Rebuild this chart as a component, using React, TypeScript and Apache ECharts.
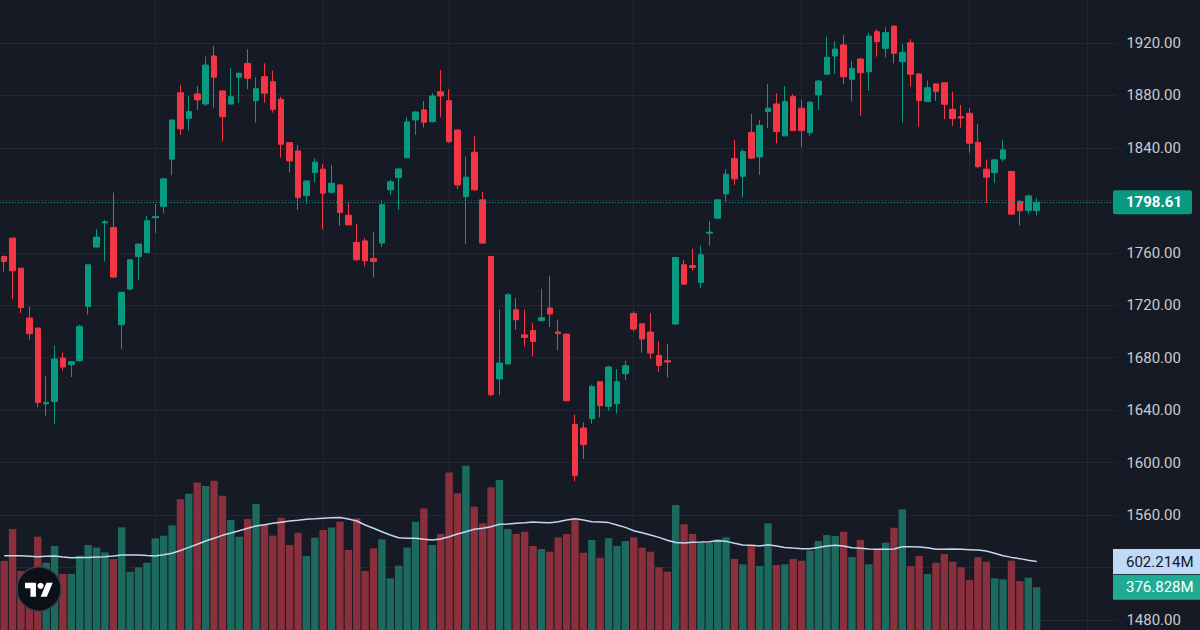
import React, { useEffect, useRef } from "react";
import * as echarts from "echarts";

// ---- data ----
const opens = [
  1757.2, 1771.2, 1748.3, 1710.2, 1702.6, 1644.9, 1646.7, 1679.8, 1674.7, 1677.7,
  1719.1, 1764.4, 1782.8, 1779.3, 1705.2, 1732.4, 1757.2, 1760.2, 1786.8, 1795.3,
  1831.4, 1882.1, 1862.6, 1881.1, 1873.5, 1910.1, 1883.4, 1873.5, 1893.9, 1904.5,
  1876.0, 1894.3, 1890.5, 1877.1, 1844.0, 1837.7, 1803.6, 1821.2, 1823.8, 1806.2,
  1811.8, 1788.7, 1767.9, 1769.1, 1755.6, 1767.4, 1808.0, 1817.4, 1832.6, 1861.3,
  1868.9, 1860.0, 1882.9, 1876.0, 1853.7, 1802.9, 1836.7, 1800.4, 1757.2, 1663.8,
  1675.2, 1716.6, 1697.5, 1700.8, 1708.4, 1717.9, 1699.6, 1698.0, 1629.2, 1626.4,
  1633.5, 1661.7, 1642.9, 1644.9, 1667.8, 1713.7, 1705.9, 1699.6, 1681.8, 1677.7,
  1705.7, 1750.9, 1750.3, 1737.4, 1775.0, 1786.4, 1804.9, 1831.8, 1818.4, 1851.9,
  1833.1, 1867.7, 1873.5, 1849.2, 1879.1, 1870.3, 1851.7, 1880.4, 1896.2, 1910.1,
  1918.5, 1892.3, 1907.8, 1898.1, 1928.6, 1915.9, 1932.9, 1905.8, 1920.2, 1896.4,
  1875.3, 1888.8, 1889.7, 1869.5, 1863.8, 1866.4, 1844.3, 1823.8, 1821.2, 1831.6,
  1822.0, 1799.1, 1792.2, 1792.2,
];
const highs = [
  1758.0, 1771.5, 1748.5, 1719.1, 1703.0, 1665.8, 1689.2, 1684.0, 1677.3, 1705.1,
  1751.0, 1778.1, 1785.1, 1806.0, 1730.5, 1755.0, 1767.0, 1788.2, 1797.3, 1817.0,
  1861.5, 1888.0, 1879.6, 1887.2, 1909.6, 1917.7, 1884.0, 1900.7, 1897.5, 1915.2,
  1893.9, 1904.5, 1898.9, 1878.9, 1844.5, 1842.3, 1815.0, 1832.2, 1827.8, 1827.0,
  1812.0, 1799.1, 1782.1, 1771.2, 1775.8, 1799.8, 1815.6, 1824.5, 1863.4, 1867.8,
  1875.8, 1881.7, 1899.4, 1884.7, 1854.0, 1833.4, 1849.1, 1806.7, 1757.5, 1716.6,
  1729.3, 1725.5, 1716.6, 1706.4, 1732.6, 1742.5, 1709.0, 1698.5, 1636.6, 1630.7,
  1659.4, 1662.0, 1673.9, 1671.4, 1677.9, 1715.3, 1706.3, 1714.1, 1692.4, 1690.7,
  1757.0, 1754.7, 1763.0, 1765.3, 1784.4, 1801.0, 1823.8, 1846.1, 1839.0, 1865.9,
  1861.3, 1888.8, 1881.7, 1887.2, 1881.1, 1876.6, 1875.6, 1891.8, 1924.8, 1921.5,
  1926.1, 1906.5, 1908.8, 1927.4, 1930.4, 1932.0, 1933.0, 1919.2, 1923.0, 1897.0,
  1891.3, 1889.3, 1890.0, 1882.9, 1872.8, 1870.3, 1858.3, 1830.9, 1831.3, 1846.1,
  1822.5, 1799.8, 1804.2, 1801.7,
];
const lows = [
  1745.7, 1724.7, 1714.1, 1693.7, 1642.1, 1635.8, 1629.5, 1670.3, 1665.3, 1677.0,
  1712.8, 1764.0, 1753.4, 1741.0, 1686.6, 1731.5, 1739.4, 1760.0, 1775.0, 1790.2,
  1819.2, 1849.9, 1853.2, 1868.9, 1872.0, 1870.7, 1845.3, 1873.0, 1874.5, 1884.7,
  1859.3, 1874.5, 1866.9, 1832.6, 1821.2, 1792.8, 1797.3, 1813.6, 1778.0, 1804.9,
  1780.6, 1781.0, 1754.0, 1749.6, 1741.2, 1764.4, 1804.2, 1792.8, 1832.0, 1849.9,
  1855.5, 1859.3, 1863.4, 1843.6, 1808.8, 1766.6, 1807.2, 1767.0, 1650.5, 1651.3,
  1675.0, 1701.3, 1688.6, 1681.0, 1707.6, 1703.4, 1685.6, 1646.5, 1585.8, 1602.8,
  1629.5, 1634.5, 1639.8, 1637.3, 1662.7, 1700.0, 1684.0, 1679.0, 1669.1, 1665.0,
  1705.0, 1735.7, 1746.3, 1733.1, 1765.3, 1786.0, 1799.1, 1811.8, 1802.4, 1831.4,
  1819.4, 1855.0, 1843.6, 1849.0, 1853.0, 1840.5, 1849.2, 1868.9, 1896.0, 1896.4,
  1888.5, 1875.3, 1864.6, 1883.7, 1909.6, 1909.1, 1904.5, 1859.3, 1886.7, 1856.2,
  1875.0, 1875.8, 1861.9, 1856.8, 1855.5, 1836.4, 1824.5, 1797.9, 1813.1, 1829.6,
  1789.0, 1780.8, 1789.5, 1788.4,
];
const closes = [
  1753.4, 1746.3, 1718.3, 1698.3, 1645.9, 1645.9, 1679.0, 1672.9, 1677.0, 1703.9,
  1750.9, 1772.0, 1783.6, 1741.5, 1729.8, 1754.7, 1766.7, 1784.4, 1787.6, 1816.4,
  1861.3, 1854.5, 1867.7, 1876.6, 1903.2, 1893.9, 1863.8, 1879.1, 1896.9, 1893.1,
  1885.2, 1881.7, 1869.5, 1842.8, 1830.1, 1802.1, 1814.8, 1829.1, 1805.5, 1813.1,
  1790.7, 1781.3, 1754.7, 1753.9, 1753.4, 1796.6, 1814.1, 1824.0, 1859.8, 1867.4,
  1859.6, 1879.6, 1879.6, 1844.8, 1811.8, 1817.7, 1808.0, 1767.4, 1651.8, 1676.0,
  1728.0, 1709.0, 1695.5, 1692.4, 1710.5, 1713.3, 1698.3, 1647.2, 1590.1, 1613.7,
  1658.1, 1643.4, 1672.9, 1661.7, 1673.9, 1701.9, 1694.2, 1683.6, 1674.1, 1676.7,
  1756.4, 1736.1, 1748.8, 1758.5, 1775.8, 1800.4, 1819.9, 1816.4, 1837.2, 1832.2,
  1857.0, 1870.3, 1852.4, 1875.3, 1853.2, 1853.2, 1874.8, 1891.0, 1909.1, 1915.4,
  1894.3, 1900.7, 1897.4, 1925.3, 1921.0, 1927.9, 1912.1, 1912.9, 1896.2, 1876.0,
  1885.9, 1882.9, 1873.3, 1862.3, 1862.8, 1843.6, 1825.7, 1817.7, 1830.9, 1838.5,
  1789.5, 1792.0, 1803.4, 1798.61,
];
// volume in millions
const volumes = [
  607, 889, 519, 499, 821, 592, 739, 493, 493, 654,
  748, 725, 683, 625, 903, 513, 552, 592, 807, 830,
  921, 1150, 1200, 1299, 1267, 1314, 1182, 968, 821, 977,
  1109, 924, 830, 988, 748, 856, 651, 812, 880, 903,
  953, 704, 983, 519, 719, 798, 455, 566, 725, 953,
  1071, 748, 845, 1387, 1203, 1446, 1085, 939, 1256, 1320,
  889, 845, 865, 739, 713, 689, 815, 845, 974, 680,
  792, 636, 807, 739, 783, 815, 725, 689, 552, 513,
  1100, 930, 845, 766, 768, 798, 815, 625, 578, 748,
  563, 939, 572, 578, 625, 610, 698, 783, 836, 827,
  865, 642, 792, 578, 704, 768, 900, 1062, 563, 651,
  493, 592, 669, 601, 552, 440, 642, 601, 455, 446,
  610, 431, 460, 376.828,
];
const volumeMA = [
  654, 654, 654, 650, 645, 648, 651, 643, 636, 638,
  639, 642, 645, 652, 660, 660, 660, 655, 651, 662,
  675, 700, 727, 755, 783, 808, 833, 853, 874, 895,
  915, 927, 939, 949, 959, 966, 974, 978, 983, 988,
  990, 976, 959, 924, 895, 865, 836, 812, 807, 807,
  798, 792, 801, 821, 845, 865, 886, 895, 909, 930,
  933, 939, 944, 950, 947, 944, 953, 968, 980, 968,
  953, 950, 945, 924, 903, 874, 856, 836, 815, 790,
  770, 765, 772, 774, 777, 786, 780, 763, 748, 745,
  739, 751, 739, 727, 721, 716, 716, 727, 739, 745,
  739, 724, 719, 713, 710, 710, 713, 733, 733, 730,
  724, 710, 710, 713, 710, 707, 704, 695, 675, 654,
  639, 628, 613, 602.214,
];
const priceMin = 1480;
const priceMax = 1920;
const priceStep = 40;
const hiddenTick = 1520;
const gridLineSlots = ["18", "38", "53", "75", "95", "115", "129"];
const SLOT_COUNT = 133;
const categories = Array.from({ length: SLOT_COUNT }, (_, i) => String(i));

// ---- styles ----
const BG = "#161a25";
const GRID = "#232733";
const UP = "#089981";
const DOWN = "#f23645";
const VOL_UP = "#1b6a5d";
const VOL_DOWN = "#8a2f3c";
const MA_COLOR = "#c3d7ef";
const LABEL = "#c8cbd3";
const FONT = "Roboto, 'Noto Sans', sans-serif";
const VOL_PX = 8.8; // millions per pixel

let registered = false;
function registerLogo() {
  if (registered) return;
  registered = true;
  echarts.graphic.registerShape(
    "tvlogo",
    echarts.graphic.extendPath("M14 22H7V11H0V4h14v18z M28 22h-8l7.5-18h8L28 22z", {}) as any
  );
}

export default function App() {
  const ref = useRef<HTMLDivElement>(null);

  useEffect(() => {
    if (!ref.current) return;
    registerLogo();
    const chart = echarts.init(ref.current, undefined, { renderer: "svg" });

    const candleData = opens.map((o, i) => [o, closes[i], lows[i], highs[i]]);
    const volData = volumes.map((v, i) => ({
      value: v,
      itemStyle: { color: closes[i] >= opens[i] ? VOL_UP : VOL_DOWN },
    }));
    const lastClose = closes[closes.length - 1];
    const lastVol = volumes[volumes.length - 1];
    const lastMA = volumeMA[volumeMA.length - 1];

    const hiddenX = {
      type: "category" as const,
      data: categories,
      boundaryGap: true,
      axisLine: { show: false },
      axisTick: { show: false },
      axisLabel: { show: false },
      splitLine: { show: false },
    };

    chart.setOption({
      animation: false,
      backgroundColor: BG,
      grid: [
        { left: -1.2, right: 83.6, top: 43, bottom: 10 },
        { left: -1.2, right: 83.6, top: 0, bottom: 0 },
      ],
      xAxis: [
        { ...hiddenX, gridIndex: 0 },
        { ...hiddenX, gridIndex: 1 },
      ],
      yAxis: [
        {
          type: "value",
          gridIndex: 0,
          position: "right",
          min: priceMin,
          max: priceMax,
          interval: priceStep,
          axisLine: { show: false },
          axisTick: { show: false },
          axisLabel: {
            color: LABEL,
            fontSize: 15,
            fontFamily: FONT,
            margin: 10,
            formatter: (v: number) => (v === hiddenTick ? "" : v.toFixed(2)),
          },
          splitLine: { show: true, lineStyle: { color: GRID, width: 1 } },
        },
        {
          type: "value",
          gridIndex: 1,
          min: 0,
          max: 630 * VOL_PX,
          show: false,
          splitLine: { show: false },
        },
      ],
      series: [
        {
          type: "bar",
          xAxisIndex: 1,
          yAxisIndex: 1,
          data: volData,
          barCategoryGap: "12%",
          z: 2,
          silent: true,
          markLine: {
            silent: true,
            z: 1,
            symbol: ["none", "none"],
            label: { show: false },
            lineStyle: { color: GRID, type: "solid", width: 1 },
            data: gridLineSlots.map((s) => ({ xAxis: s })),
          },
        },
        {
          type: "line",
          xAxisIndex: 1,
          yAxisIndex: 1,
          data: volumeMA,
          symbol: "none",
          silent: true,
          z: 3,
          lineStyle: { color: MA_COLOR, width: 1.5 },
        },
        {
          type: "candlestick",
          xAxisIndex: 0,
          yAxisIndex: 0,
          data: candleData,
          clip: false,
          barWidth: 6,
          z: 4,
          itemStyle: {
            color: UP,
            color0: DOWN,
            borderColor: UP,
            borderColor0: DOWN,
            borderWidth: 1,
          },
          markLine: {
            silent: true,
            symbol: ["none", "none"],
            label: { show: false },
            data: [{ yAxis: lastClose, lineStyle: { color: UP, type: [1, 2], width: 1 } }],
          },
        },
      ],
    });

    const yPrice = chart.convertToPixel({ yAxisIndex: 0 } as any, lastClose) as number;
    const yMA = chart.convertToPixel({ yAxisIndex: 1 } as any, lastMA) as number;
    const yVol = chart.convertToPixel({ yAxisIndex: 1 } as any, lastVol) as number;
    const boxX = 1113;

    chart.setOption({
      graphic: [
        {
          type: "rect",
          shape: { x: boxX, y: yPrice - 12, width: 79, height: 24, r: 2 },
          style: { fill: UP },
          z: 100,
        },
        {
          type: "text",
          x: 1126,
          y: yPrice,
          style: {
            text: lastClose.toFixed(2),
            fill: "#ffffff",
            fontSize: 15,
            fontWeight: "bold",
            fontFamily: FONT,
            align: "left",
            verticalAlign: "middle",
          },
          z: 101,
        },
        {
          type: "rect",
          shape: { x: boxX, y: yMA - 12.5, width: 87, height: 25 },
          style: { fill: "#bfd9f6" },
          z: 100,
        },
        {
          type: "text",
          x: 1126,
          y: yMA,
          style: {
            text: lastMA.toFixed(3) + "M",
            fill: "#131722",
            fontSize: 15,
            fontFamily: FONT,
            align: "left",
            verticalAlign: "middle",
          },
          z: 101,
        },
        {
          type: "rect",
          shape: { x: boxX, y: yVol - 12.5, width: 87, height: 25 },
          style: { fill: "#22ab94" },
          z: 100,
        },
        {
          type: "text",
          x: 1126,
          y: yVol,
          style: {
            text: lastVol.toFixed(3) + "M",
            fill: "#ffffff",
            fontSize: 15,
            fontFamily: FONT,
            align: "left",
            verticalAlign: "middle",
          },
          z: 101,
        },
        {
          type: "circle",
          shape: { cx: 39, cy: 589, r: 22 },
          style: { fill: "#0e1017", stroke: "#3a3e4a", lineWidth: 1.5 },
          z: 100,
        },
        {
          type: "tvlogo",
          x: 25,
          y: 579.6,
          scaleX: 0.78,
          scaleY: 0.78,
          style: { fill: "#ffffff" },
          z: 101,
        },
        {
          type: "circle",
          shape: { cx: 25 + 20 * 0.78, cy: 579.6 + 8 * 0.78, r: 3.1 },
          style: { fill: "#ffffff" },
          z: 101,
        },
      ],
    });

    return () => chart.dispose();
  }, []);

  return (
    <div
      ref={ref}
      style={{ position: "fixed", left: 0, top: 0, width: 1200, height: 630, background: BG }}
    />
  );
}
